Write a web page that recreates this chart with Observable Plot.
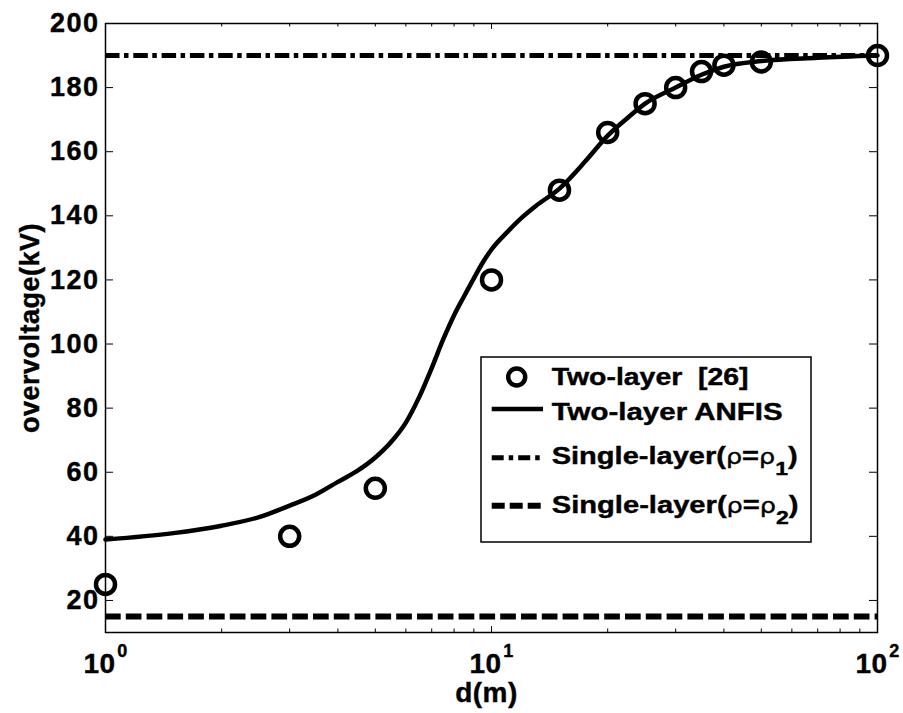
<!DOCTYPE html>
<html><head><meta charset="utf-8">
<script src="https://cdn.jsdelivr.net/npm/d3@7"></script>
<script src="https://cdn.jsdelivr.net/npm/@observablehq/plot@0.6"></script>
<style>
body{margin:0;background:#fff;}
#wrap{position:relative;width:903px;height:713px;background:#fff;}
#wrap > svg{display:block;}
</style></head><body><div id="wrap"></div>
<script>
// Two-layer [26] reference points
const refD = [1, 3, 5, 10, 15, 20, 25, 30, 35, 40, 50, 100];
const refV = [25, 40, 55, 120, 148, 166, 175, 180, 185, 187, 188, 190];
// Two-layer ANFIS curve
const anfisD = [1, 1.5, 2, 2.5, 3, 3.5, 4, 4.5, 5, 5.5, 6, 6.5, 7, 7.5, 8, 8.5, 9, 9.5, 10, 11, 12, 13, 15, 17.5, 20, 22.5, 25, 30, 35, 40, 50, 70, 100];
const anfisV = [39, 41, 43.3, 46, 49.6, 53, 57, 60.5, 64.6, 69.5, 75.5, 83.5, 92.5, 101.5, 109, 115, 120.5, 125.5, 129.5, 135, 139.5, 143, 148.5, 157, 165, 170.5, 175, 180, 184, 186.5, 188.3, 189.3, 190];
// Single-layer levels
const rho1Level = [190];
const rho2Level = [15];
// ticks
const yTicks = [20, 40, 60, 80, 100, 120, 140, 160, 180, 200];
const xMajor = [1, 10, 100];
const xMinor = [2, 3, 4, 5, 6, 7, 8, 9, 20, 30, 40, 50, 60, 70, 80, 90];
const xLabel = "d(m)";
const yLabel = "overvoltage(kV)";
const legendNames = ["Two-layer  [26]", "Two-layer ANFIS", "Single-layer(", "Single-layer("];

const ref = refD.map((d, i) => ({d, v: refV[i]}));
const anfis = anfisD.map((d, i) => ({d, v: anfisV[i]}));
const font = '"Liberation Sans", Arial, Helvetica, sans-serif';

const W = 903, H = 713, ML = 105, MR = 26, MT = 23, MB = 81;
const fw = W - ML - MR, fh = H - MT - MB;

const chart = Plot.plot({
  width: W, height: H,
  marginLeft: ML, marginRight: MR, marginTop: MT, marginBottom: MB,
  style: {fontFamily: font, background: "white", color: "black"},
  x: {type: "log", domain: [1, 100], axis: null},
  y: {domain: [10, 200]},
  marks: [
    Plot.ruleY(rho1Level, {stroke: "black", strokeWidth: 5, strokeDasharray: "14.5,4.5,4.5,4.8"}),
    Plot.ruleY(rho2Level, {stroke: "black", strokeWidth: 6, strokeDasharray: "15.7,5.1"}),
    Plot.line(anfis, {x: "d", y: "v", stroke: "black", strokeWidth: 4.5, curve: "monotone-x"}),
    Plot.dot(ref, {x: "d", y: "v", r: 9.5, stroke: "black", strokeWidth: 4.5, fill: "none"}),
    Plot.frame({stroke: "black", strokeWidth: 1.5}),
    Plot.axisY(yTicks, {anchor: "left", tickSize: 0, tickPadding: 6, fontSize: 27, fontWeight: "bold", label: null}),
    Plot.tickY(yTicks, {y: d => d, stroke: "black", strokeWidth: 1, insetRight: fw - 8}),
    Plot.tickY(yTicks, {y: d => d, stroke: "black", strokeWidth: 1, insetLeft: fw - 8}),
    Plot.tickX(xMajor, {x: d => d, stroke: "black", strokeWidth: 1, insetTop: fh - 6}),
    Plot.tickX(xMajor, {x: d => d, stroke: "black", strokeWidth: 1, insetBottom: fh - 6}),
    Plot.tickX(xMinor, {x: d => d, stroke: "black", strokeWidth: 1, insetTop: fh - 3.5}),
    Plot.tickX(xMinor, {x: d => d, stroke: "black", strokeWidth: 1, insetBottom: fh - 3.5}),
    Plot.text(xMajor, {x: d => d, frameAnchor: "bottom", lineAnchor: "middle", text: () => "10", dy: 32, dx: -6, fontSize: 28, fontWeight: "bold"}),
    Plot.text(xMajor, {x: d => d, frameAnchor: "bottom", lineAnchor: "middle", text: d => String(Math.round(Math.log10(d))), dy: 19, dx: 17, fontSize: 18, fontWeight: "bold"}),
    Plot.text([yLabel], {frameAnchor: "left", textAnchor: "middle", lineAnchor: "middle", rotate: -90, dx: -75, fontSize: 27, fontWeight: "bold"}),
    Plot.text([xLabel], {frameAnchor: "bottom", textAnchor: "middle", lineAnchor: "middle", dy: 61, dx: -5, fontSize: 28, fontWeight: "bold"})
  ]
});
const wrap = document.getElementById("wrap");
wrap.appendChild(chart);
d3.select(chart).selectAll('g[aria-label="y-axis tick label"] text')
  .attr("letter-spacing", "1.5").attr("stroke", "black").attr("stroke-width", 0.4);
d3.select(chart).selectAll('g[aria-label="text"] text')
  .attr("letter-spacing", "0.5").attr("stroke", "black").attr("stroke-width", 0.4);

// Legend
const leg = d3.select(wrap).append("svg")
  .attr("width", 334).attr("height", 190)
  .style("position", "absolute").style("left", "480px").style("top", "356px")
  .style("overflow", "visible")
  .style("font-family", font);
leg.append("rect").attr("x", 1).attr("y", 1).attr("width", 330).attr("height", 185)
  .attr("fill", "white").attr("stroke", "black").attr("stroke-width", 1.5);
leg.append("circle").attr("cx", 36.7).attr("cy", 21).attr("r", 8.5)
  .attr("fill", "none").attr("stroke", "black").attr("stroke-width", 4.5);
leg.append("line").attr("x1", 11.7).attr("x2", 63).attr("y1", 53).attr("y2", 53)
  .attr("stroke", "black").attr("stroke-width", 4.5);
leg.append("line").attr("x1", 11.7).attr("x2", 63).attr("y1", 101.7).attr("y2", 101.7)
  .attr("stroke", "black").attr("stroke-width", 5).attr("stroke-dasharray", "12,5,4.5,5");
leg.append("line").attr("x1", 11.7).attr("x2", 63).attr("y1", 149.7).attr("y2", 149.7)
  .attr("stroke", "black").attr("stroke-width", 6).attr("stroke-dasharray", "13,5");

const rows = [
  {y: 29, w: 197, name: legendNames[0], sub: null},
  {y: 64, w: 231, name: legendNames[1], sub: null},
  {y: 108.3, w: 246, name: legendNames[2], sub: "1"},
  {y: 156.7, w: 247, name: legendNames[3], sub: "2"}
];
rows.forEach(r => {
  const t = leg.append("text").attr("x", 0).attr("y", 0)
    .attr("font-size", 24).attr("font-weight", "bold").attr("fill", "black")
    .attr("stroke", "black").attr("stroke-width", 0.4)
    .style("white-space", "pre");
  t.append("tspan").text(r.name);
  if (r.sub) {
    t.append("tspan").attr("font-weight", "normal").attr("font-family", '"DejaVu Sans", sans-serif').attr("font-size", 21).text("ρ");
    t.append("tspan").text("=");
    t.append("tspan").attr("font-weight", "normal").attr("font-family", '"DejaVu Sans", sans-serif').attr("font-size", 21).text("ρ");
    t.append("tspan").attr("font-size", 19).attr("dy", 11).text(r.sub);
    t.append("tspan").attr("dy", -11).text(")");
  }
  const len = t.node().getComputedTextLength();
  const s = r.w / len;
  t.attr("transform", `translate(71.7,${r.y}) scale(${s},1)`);
});
</script>
</body></html>
